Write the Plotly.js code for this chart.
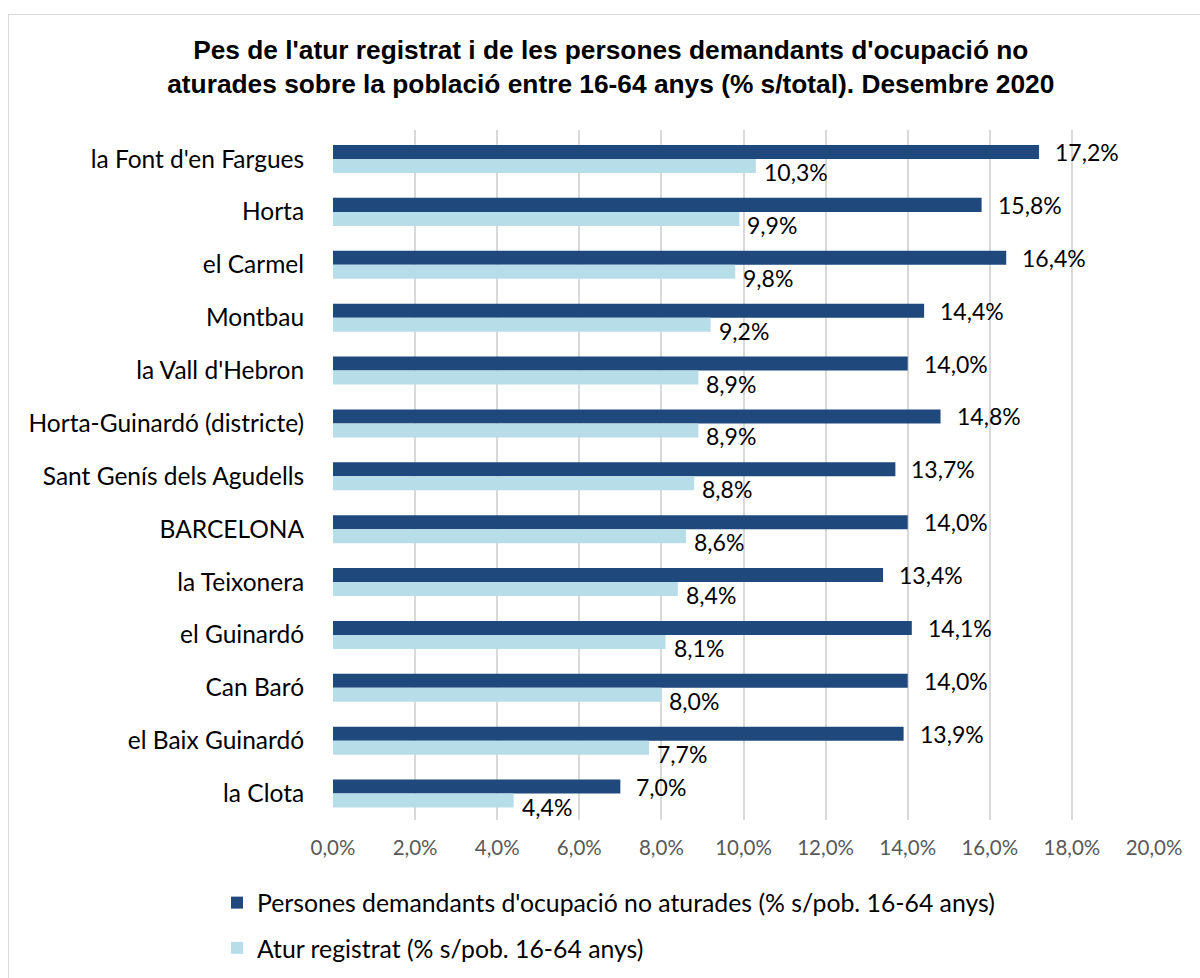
<!DOCTYPE html>
<html>
<head>
<meta charset="utf-8">
<script src="https://cdn.plot.ly/plotly-3.0.1.min.js"></script>
<style>
html,body{margin:0;padding:0;background:#fff;overflow:hidden;}
#chart{width:1200px;height:978px;}
#frame{position:absolute;left:8px;top:14px;width:1260px;height:1020px;border:1.5px solid #d9d9d9;pointer-events:none;}
</style>
</head>
<body>
<div id="chart"></div>
<div id="frame"></div>
<script>
const categories = ["la Font d'en Fargues","Horta","el Carmel","Montbau","la Vall d'Hebron","Horta-Guinardó (districte)","Sant Genís dels Agudells","BARCELONA","la Teixonera","el Guinardó","Can Baró","el Baix Guinardó","la Clota"];
const demandants = [17.2,15.8,16.4,14.4,14.0,14.8,13.7,14.0,13.4,14.1,14.0,13.9,7.0];
const atur = [10.3,9.9,9.8,9.2,8.9,8.9,8.8,8.6,8.4,8.1,8.0,7.7,4.4];
const seriesNames = ["Persones demandants d'ocupació no aturades (% s/pob. 16-64 anys)","Atur registrat (% s/pob. 16-64 anys)"];
const tickVals = [0,2,4,6,8,10,12,14,16,18,20];

const fmt = v => v.toFixed(1).replace('.', ',') + '%';
const FAM = 'Lato, "Open Sans", sans-serif';
const labelFont = {family:FAM, size:23, color:'#000'};

const traces = [
  {type:'bar', orientation:'h', y:categories, x:demandants, name:seriesNames[0],
   marker:{color:'#1f487c'}, legendgroup:'a', hoverinfo:'x+y'},
  {type:'bar', orientation:'h', y:categories, x:atur, name:seriesNames[1],
   marker:{color:'#b7dde8'}, legendgroup:'b', hoverinfo:'x+y'}
];

const annotations = [];
categories.forEach((c,i)=>{
  annotations.push({x:demandants[i], y:c, xref:'x', yref:'y', text:fmt(demandants[i]),
    showarrow:false, xanchor:'left', yanchor:'middle', xshift:14, yshift:7, font:labelFont});
  annotations.push({x:atur[i], y:c, xref:'x', yref:'y', text:fmt(atur[i]),
    showarrow:false, xanchor:'left', yanchor:'middle', xshift:6, yshift:-13, font:labelFont});
});

const layout = {
  width:1200, height:978,
  paper_bgcolor:'#fff', plot_bgcolor:'#fff',
  margin:{l:333, r:46, t:130, b:158, autoexpand:false},
  title:{text:"<b>Pes de l'atur registrat i de les persones demandants d'ocupació no<br>aturades sobre la població entre 16-64 anys (% s/total). Desembre 2020</b>",
    font:{family:'"Liberation Sans", Arial, sans-serif', size:26.3, color:'#000'},
    x:0.509, xref:'container', xanchor:'center', y:1-59/978, yref:'container', yanchor:'middle'},
  barmode:'group', bargap:0.47, bargroupgap:0,
  xaxis:{range:[0,20], tickmode:'array', tickvals:tickVals, ticktext:tickVals.map(fmt),
    showgrid:true, gridcolor:'#d9d9d9', gridwidth:2, zeroline:false, showline:false,
    tickfont:{family:FAM, size:20.5, color:'#595959'}, ticks:'outside', ticklen:9, tickcolor:'rgba(0,0,0,0)',
    fixedrange:true, automargin:false},
  yaxis:{autorange:'reversed', type:'category', showgrid:false, zeroline:false, showline:false,
    ticks:'outside', ticklen:23, tickcolor:'rgba(0,0,0,0)',
    tickfont:{family:FAM, size:24.5, color:'#000'}, fixedrange:true, automargin:false},
  showlegend:true,
  legend:{orientation:'v', x:-0.1413, xanchor:'left', yref:'container', y:(978-880)/978, yanchor:'top', traceorder:'grouped',
    tracegroupgap:10, font:{family:FAM, size:24.8, color:'#000'},
    bgcolor:'rgba(0,0,0,0)'},
  annotations:annotations
};

Plotly.newPlot('chart', traces, layout, {displayModeBar:false, staticPlot:true});
</script>
</body>
</html>
